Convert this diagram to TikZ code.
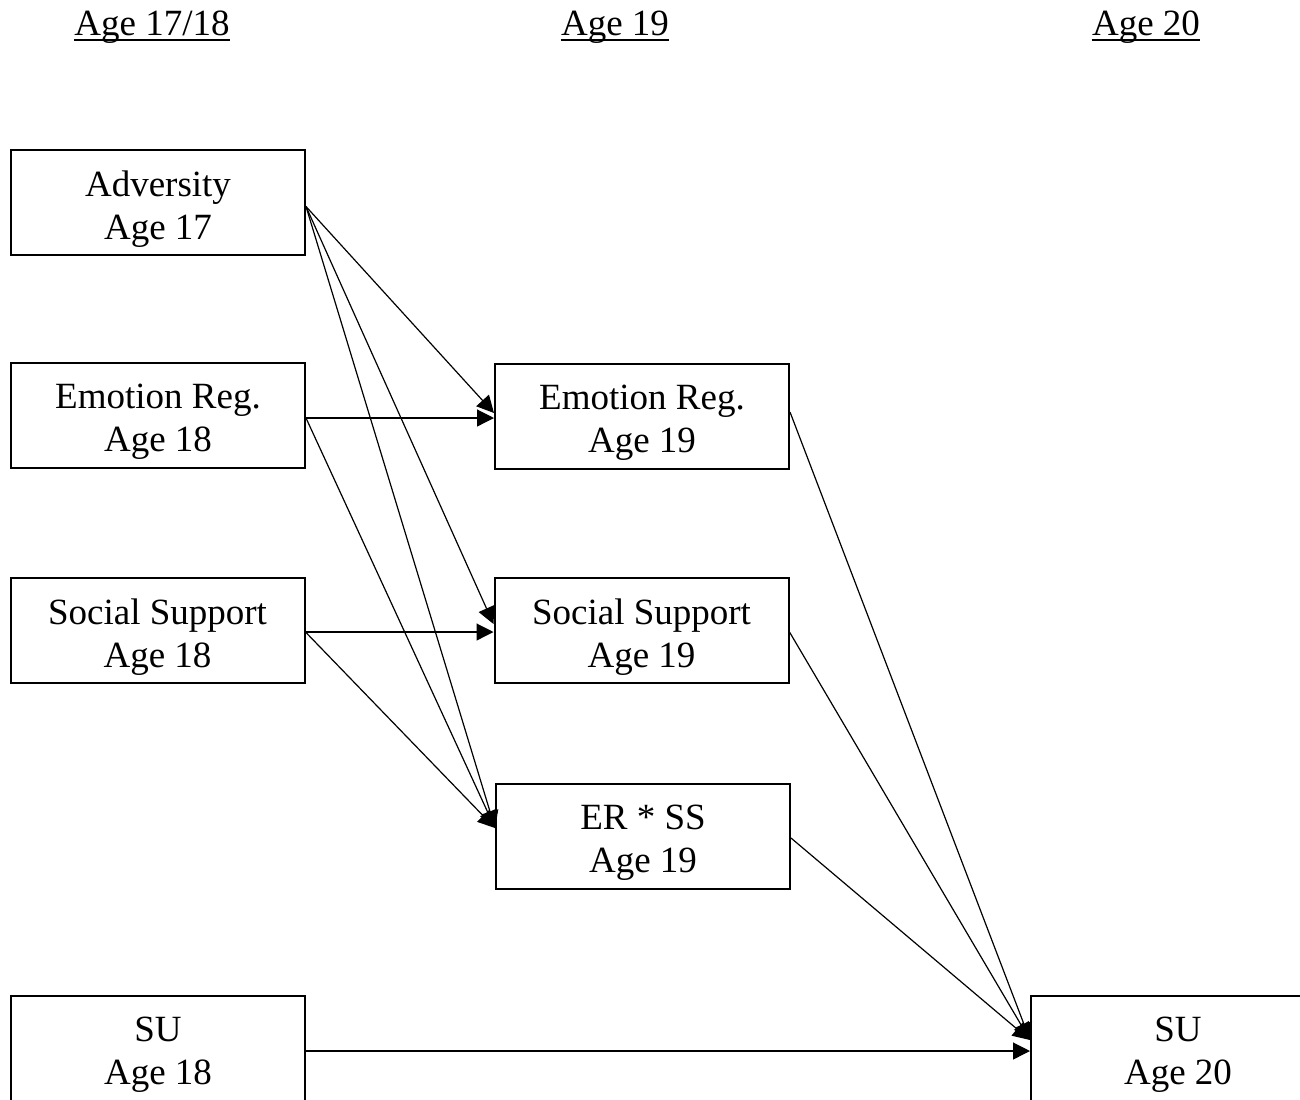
\documentclass[tikz,border=0pt]{standalone}
\usepackage{fontspec}
\setmainfont{Liberation Serif}
\usetikzlibrary{arrows.meta}
\begin{document}
\begin{tikzpicture}[x=0.5pt,y=-0.5pt,
  txt/.style={inner sep=0pt,align=center,font=\fontsize{18.5}{21.5}\selectfont},
  box/.style={draw,line width=1pt,minimum width=147pt,minimum height=52.5pt,inner sep=0pt,
    label={[txt,yshift=-3.5pt]center:#1}},
  hdr/.style={inner sep=0pt,anchor=base,font=\fontsize{18.5}{21.5}\selectfont},
  ul/.style={line width=1pt},
  conn/.style={line width=0.6pt,-{Triangle[length=8.5pt,width=8.5pt]}}]
\clip (0,0) rectangle (1300,1099);
\useasboundingbox (0,0) rectangle (1300,1099);
\node[hdr] (h1) at (152,35) {Age 17/18};
\node[hdr] (h2) at (615,35) {Age 19};
\node[hdr] (h3) at (1146,35) {Age 20};
\foreach \h in {h1,h2,h3}
  \draw[ul] ([yshift=-2.4pt]\h.base west) -- ([yshift=-2.4pt]\h.base east);
\node[box={Adversity\\ Age 17}] (adv) at (158,202.5) {};
\node[box={Emotion Reg.\\Age 18}] (er18) at (158,415) {};
\node[box={Social Support\\Age 18}] (ss18) at (157.5,630) {};
\node[box={SU\\Age 18}] (su18) at (158,1048) {};
\node[box={Emotion Reg.\\Age 19}] (er19) at (642,416) {};
\node[box={Social Support\\Age 19}] (ss19) at (641.5,630) {};
\node[box={ER * SS\\Age 19}] (erss) at (643,836) {};
\node[box={SU\\Age 20}] (su20) at (1178,1048) {};
\draw[conn] ([yshift=-2pt]adv.east) -- ([yshift=1.5pt]er19.west);
\draw[conn] ([yshift=-2pt]adv.east) -- ([yshift=3pt]ss19.west);
\draw[conn] ([yshift=-2pt]adv.east) -- ([yshift=4pt]erss.west);
\draw[conn] ([yshift=-1.5pt]er18.east) -- ([yshift=-1pt]er19.west);
\draw[conn] ([yshift=-1.5pt]er18.east) -- ([yshift=4pt]erss.west);
\draw[conn] ([yshift=-1pt]ss18.east) -- ([yshift=-1pt]ss19.west);
\draw[conn] ([yshift=-1pt]ss18.east) -- ([yshift=4pt]erss.west);
\draw[conn] ([yshift=2pt]er19.east) -- ([yshift=4pt]su20.west);
\draw[conn] ([yshift=-1pt]ss19.east) -- ([yshift=4pt]su20.west);
\draw[conn] ([yshift=-1pt]erss.east) -- ([yshift=4pt]su20.west);
\draw[conn] ([yshift=-1.5pt]su18.east) -- ([yshift=-1.5pt]su20.west);
\end{tikzpicture}
\end{document}
